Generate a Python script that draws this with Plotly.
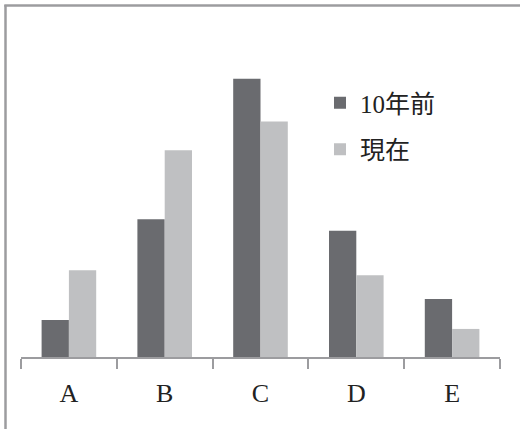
import plotly.graph_objects as go

# Share of each group (%), ten years ago vs. today
categories = ["A", "B", "C", "D", "E"]
past_share = [5.8, 21.6, 43.6, 19.8, 9.1]
now_share = [13.6, 32.4, 36.9, 12.8, 4.4]
series_names = ["10年前", "現在"]

dark = "#6a6b6f"
light = "#bfc0c2"
frame = "#9c9c9f"

fig = go.Figure()
fig.add_trace(go.Bar(x=categories, y=past_share, name=series_names[0],
                     marker=dict(color=dark, line=dict(width=0)),
                     legendgroup="g1"))
fig.add_trace(go.Bar(x=categories, y=now_share, name=series_names[1],
                     marker=dict(color=light, line=dict(width=0)),
                     legendgroup="g2"))

W, H = 521, 429
ml, mr, mt, mb = 21, 21, 38, 72
pw, ph = W - ml - mr, H - mt - mb


def px_x(p):
    return (p - ml) / pw


def px_y(p):
    return (H - mb - p) / ph


fig.update_layout(
    width=W, height=H,
    margin=dict(l=ml, r=mr, t=mt, b=mb, pad=0),
    paper_bgcolor="white", plot_bgcolor="white",
    barmode="group", bargap=0.43, bargroupgap=0,
    showlegend=True,
    legend=dict(x=px_x(320), y=px_y(80), xanchor="left", yanchor="top",
                font=dict(family="Liberation Serif, Noto Sans CJK JP", size=25, color="#222"),
                traceorder="grouped", tracegroupgap=11,
                bgcolor="rgba(0,0,0,0)", itemclick=False),
    xaxis=dict(showline=True, linecolor=frame, linewidth=2,
               ticks="outside", ticklen=10, tickwidth=2, tickcolor=frame,
               tickson="boundaries", showgrid=False, zeroline=False,
               ticklabelstandoff=12,
               tickfont=dict(family="Liberation Serif", size=26, color="#222"),
               fixedrange=True),
    yaxis=dict(range=[0, 50], visible=False, showgrid=False, fixedrange=True),
    shapes=[
        dict(type="line", xref="paper", yref="paper",
             x0=px_x(5.5), x1=px_x(5.5), y0=px_y(440), y1=px_y(5),
             line=dict(color=frame, width=2.5)),
        dict(type="line", xref="paper", yref="paper",
             x0=px_x(4.3), x1=px_x(520), y0=px_y(5.5), y1=px_y(5.5),
             line=dict(color=frame, width=2.5)),
    ],
)

fig.write_html("out.html")
